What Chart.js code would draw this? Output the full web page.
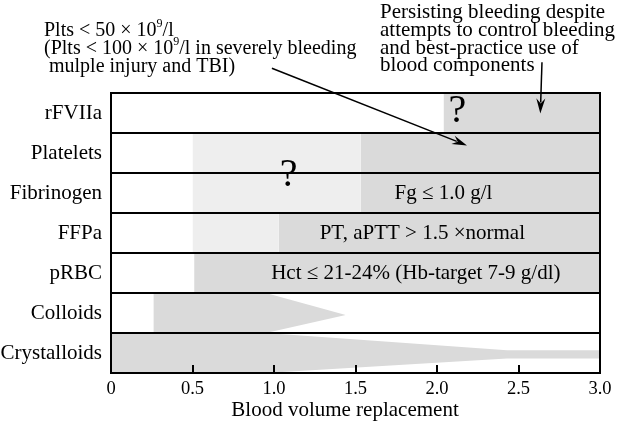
<!DOCTYPE html>
<html>
<head>
<meta charset="utf-8">
<script src="https://cdn.jsdelivr.net/npm/chart.js@4"></script>
<style>
  html, body { margin: 0; padding: 0; background: #fff; }
</style>
</head>
<body>
<canvas id="chart" width="619" height="421"></canvas>
<script>
// rows from bottom to top
var categories = ['Crystalloids', 'Colloids', 'pRBC', 'FFPa', 'Fibrinogen', 'Platelets', 'rFVIIa'];
var xTickValues = [0, 0.5, 1.0, 1.5, 2.0, 2.5, 3.0];
var xTickLabels = ['0', '0.5', '1.0', '1.5', '2.0', '2.5', '3.0'];

// uncertain zone ("?"), light gray. null = none
var lightFrom = [null, null, null, 0.5, 0.5, 0.5, null];
var lightTo   = [null, null, null, 1.03, 1.53, 1.53, null];
// indicated zone, dark gray
var darkFrom = [null, null, 0.51, 1.03, 1.53, 1.53, 2.04];
var darkTo   = [null, null, 3.0, 3.0, 3.0, 3.0, 3.0];

// tapering profiles (row units)
var colloidsX     = [0.26, 0.95, 1.44];
var colloidsUpper = [2, 2, 1.45];
var colloidsLower = [1, 1, 1.45];
var crystalloidsX     = [0, 0.95, 2.43, 3.0];
var crystalloidsUpper = [1, 1, 0.57, 0.57];
var crystalloidsLower = [0, 0, 0.36, 0.36];

var leftNote = ['Plts < 50 × 10|9|/l', '(Plts < 100 × 10|9|/l in severely bleeding', ' mulple injury and TBI)'];
var rightNote = ['Persisting bleeding despite', 'attempts to control bleeding', 'and best-practice use of', 'blood components'];

var DARK = '#dadada';
var LIGHT = '#eeeeee';
var SERIF = '"Liberation Serif", "Times New Roman", serif';

function zip(xs, ys) {
  return xs.map(function (x, i) { return { x: x, y: ys[i] }; });
}

var datasets = [];
categories.forEach(function (c, i) {
  if (lightFrom[i] !== null) {
    datasets.push({
      data: [{ x: lightFrom[i], y: i + 1 }, { x: lightTo[i], y: i + 1 }],
      fill: { value: i }, backgroundColor: LIGHT
    });
  }
  if (darkFrom[i] !== null) {
    datasets.push({
      data: [{ x: darkFrom[i], y: i + 1 }, { x: darkTo[i], y: i + 1 }],
      fill: { value: i }, backgroundColor: DARK
    });
  }
});
datasets.push({ data: zip(colloidsX, colloidsUpper), fill: '+1', backgroundColor: DARK });
datasets.push({ data: zip(colloidsX, colloidsLower), fill: false });
datasets.push({ data: zip(crystalloidsX, crystalloidsUpper), fill: '+1', backgroundColor: DARK });
datasets.push({ data: zip(crystalloidsX, crystalloidsLower), fill: false });

datasets.forEach(function (d) {
  d.showLine = true;
  d.borderWidth = 0;
  d.borderColor = 'rgba(0,0,0,0)';
  d.pointRadius = 0;
  d.tension = 0;
});

function arrow(ctx, x1, y1, x2, y2) {
  var ang = Math.atan2(y2 - y1, x2 - x1);
  var len = 15, half = 4.5;
  var bx = x2 - len * Math.cos(ang), by = y2 - len * Math.sin(ang);
  ctx.beginPath();
  ctx.moveTo(x1, y1);
  ctx.lineTo(bx + 4 * Math.cos(ang), by + 4 * Math.sin(ang));
  ctx.lineWidth = 1.5;
  ctx.stroke();
  ctx.beginPath();
  ctx.moveTo(x2, y2);
  ctx.lineTo(bx - half * Math.sin(ang), by + half * Math.cos(ang));
  ctx.lineTo(bx + 5 * Math.cos(ang), by + 5 * Math.sin(ang));
  ctx.lineTo(bx + half * Math.sin(ang), by - half * Math.cos(ang));
  ctx.closePath();
  ctx.fill();
}

// text with |superscript| parts
function richText(ctx, str, x, y) {
  var parts = str.split('|');
  parts.forEach(function (p, k) {
    if (k % 2 === 1) {
      ctx.font = '12px ' + SERIF;
      ctx.fillText(p, x, y - 9);
    } else {
      ctx.font = '20px ' + SERIF;
      ctx.fillText(p, x, y);
    }
    x += ctx.measureText(p).width;
  });
}

var notesPlugin = {
  id: 'notes',
  afterDatasetsDraw: function (chart) {
    var ctx = chart.ctx;
    var a = chart.chartArea;
    var xs = chart.scales.x, ys = chart.scales.y;
    function px(v) { return xs.getPixelForValue(v); }
    function py(v) { return ys.getPixelForValue(v); }

    ctx.save();
    ctx.strokeStyle = '#000';
    ctx.fillStyle = '#000';
    ctx.lineWidth = 2;
    ctx.strokeRect(a.left, a.top, a.right - a.left, a.bottom - a.top);

    // inward tick marks on the x axis
    ctx.beginPath();
    xTickValues.forEach(function (v) {
      var x = Math.round(px(v));
      ctx.moveTo(x, a.bottom);
      ctx.lineTo(x, a.bottom - 8);
    });
    ctx.stroke();

    // labels inside the bands
    ctx.font = '21px ' + SERIF;
    ctx.textAlign = 'center';
    ctx.textBaseline = 'middle';
    ctx.fillText('Fg ≤ 1.0 g/l', px(2.04), py(4.5));
    ctx.fillText('PT, aPTT > 1.5 ×normal', px(1.91), py(3.5));
    ctx.fillText('Hct ≤ 21-24% (Hb-target 7-9 g/dl)', px(1.87), py(2.5));
    ctx.font = '40px ' + SERIF;
    ctx.fillText('?', px(2.125), py(6.55));
    ctx.fillText('?', px(1.09), py(4.95));

    // notes above the plot
    ctx.textAlign = 'left';
    ctx.textBaseline = 'alphabetic';
    var lb = [36, 53.5, 71.5];
    leftNote.forEach(function (t, i) { richText(ctx, t, 44, lb[i]); });
    var rb = [18, 36, 53.5, 71];
    ctx.font = '21px ' + SERIF;
    rightNote.forEach(function (t, i) { ctx.fillText(t, 380, rb[i]); });

    arrow(ctx, px(0.987), py(7.62), px(2.184), py(5.69));
    arrow(ctx, px(2.644), py(7.77), px(2.634), py(6.49));
    ctx.restore();
  }
};

Chart.defaults.font.family = SERIF;
Chart.defaults.font.size = 21;
Chart.defaults.color = '#000';

new Chart(document.getElementById('chart'), {
  type: 'scatter',
  data: { datasets: datasets },
  options: {
    responsive: false,
    animation: false,
    layout: { padding: { top: 93, right: 19, bottom: 0, left: 0 } },
    plugins: { legend: { display: false }, tooltip: { enabled: false } },
    scales: {
      x: {
        type: 'linear', min: 0, max: 3,
        afterBuildTicks: function (s) { s.ticks = xTickValues.map(function (v) { return { value: v }; }); },
        afterFit: function (s) { s.height = 48; },
        ticks: {
          autoSkip: false, maxRotation: 0, padding: 5,
          font: { size: 18.5 },
          callback: function (v, i) { return xTickLabels[i]; }
        },
        grid: { display: false, drawTicks: false },
        border: { color: '#000', width: 2 },
        title: {
          display: true, text: 'Blood volume replacement    ',
          font: { size: 21, lineHeight: 1.0 },
          padding: { top: 0, bottom: 0 }
        }
      },
      y: {
        type: 'linear', position: 'left', min: 0, max: 7,
        afterBuildTicks: function (s) { s.ticks = categories.map(function (c, i) { return { value: i + 0.5 }; }); },
        afterFit: function (s) { s.width = 111; },
        ticks: { padding: 9, callback: function (v, i) { return categories[i]; } },
        grid: { display: false, drawTicks: false },
        border: { color: '#000', width: 2 }
      },
      rows: {
        type: 'linear', position: 'left', min: 0, max: 7,
        ticks: { display: false, stepSize: 1 },
        afterFit: function (s) { s.width = 0; },
        grid: { color: '#000', lineWidth: 2, drawTicks: false, z: 1 },
        border: { display: false, z: 1 }
      }
    }
  },
  plugins: [notesPlugin]
});
</script>
</body>
</html>
